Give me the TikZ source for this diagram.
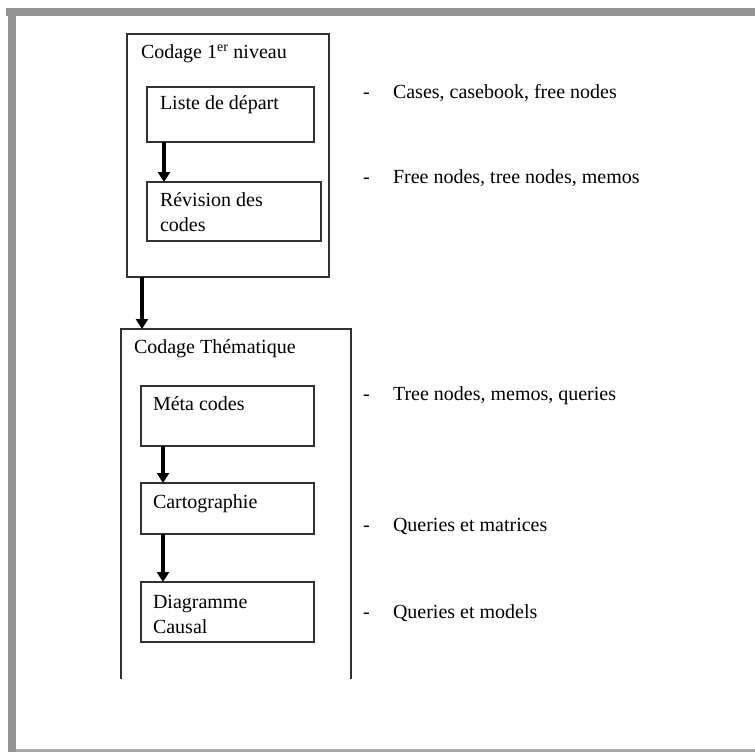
\documentclass[tikz,border=0pt]{standalone}
\usepackage{fontspec}
\setmainfont{Liberation Serif}
\usetikzlibrary{arrows.meta}
\definecolor{framegray}{RGB}{147,147,150}
\definecolor{framelight}{RGB}{170,170,172}
\definecolor{boxline}{RGB}{50,50,50}
\begin{document}
\begin{tikzpicture}[x=1pt,y=-1pt,
  box/.style={draw=boxline, line width=1.5pt, rectangle, inner sep=0pt, outer sep=0pt, anchor=north west},
  txt/.style={inner sep=0pt, outer sep=0pt, anchor=base west, align=left, font=\fontsize{20}{25}\selectfont},
  arr/.style={line width=3.2pt, -{Triangle[length=10pt,width=12pt]}}]
\useasboundingbox (0,0) rectangle (755,752);
% frame
\fill[framegray] (6,8) rectangle (755,16.5);
\fill[framegray] (8,8) rectangle (16,752);
\fill[framelight] (16,749) rectangle (755,752);
% first group
\node[box, minimum width=202pt, minimum height=243pt] (c1) at (127,34) {};
\node[txt] (t1) at (141,59) {Codage 1\textsuperscript{er} niveau};
\node[box, minimum width=167pt, minimum height=55pt] (liste) at (147,87) {};
\node[txt] (tliste) at (160,110) {Liste de départ};
\node[box, minimum width=174pt, minimum height=59pt] (revis) at (147,182) {};
\node[txt] (trevis) at (160,231) {Révision des\\codes};
\draw[arr] ([xshift=17pt]liste.south west) -- ([xshift=17pt]revis.north west);
% second group
\node[inner sep=0pt, outer sep=0pt, anchor=north west, minimum width=230pt, minimum height=350pt] (c2) at (121,329) {};
\draw[draw=boxline, line width=1.5pt] (c2.south west) -- (c2.north west) -- (c2.north east) -- (c2.south east);
\node[txt] (t2) at (134,353) {Codage Thématique};
\draw[arr] ([xshift=15pt]c1.south west) -- ([xshift=21pt]c2.north west);
\node[box, minimum width=173pt, minimum height=60pt] (meta) at (141,386) {};
\node[txt] (tmeta) at (153,410) {Méta codes};
\node[box, minimum width=173pt, minimum height=51pt] (carto) at (141,483) {};
\node[txt] (tcarto) at (153,508) {Cartographie};
\node[box, minimum width=173pt, minimum height=60pt] (diag) at (141,582) {};
\node[txt] (tdiag) at (153,633) {Diagramme\\Causal};
\draw[arr] ([xshift=22pt]meta.south west) -- ([xshift=22pt]carto.north west);
\draw[arr] ([xshift=22pt]carto.south west) -- ([xshift=22pt]diag.north west);
% right column
\node[txt] (d1) at (363,98) {-};
\node[txt] (r1) at (393,98) {Cases, casebook, free nodes};
\node[txt] (d2) at (363,183) {-};
\node[txt] (r2) at (393,183) {Free nodes, tree nodes, memos};
\node[txt] (d3) at (363,400) {-};
\node[txt] (r3) at (393,400) {Tree nodes, memos, queries};
\node[txt] (d4) at (363,531) {-};
\node[txt] (r4) at (393,531) {Queries et matrices};
\node[txt] (d5) at (363,618) {-};
\node[txt] (r5) at (393,618) {Queries et models};
\end{tikzpicture}
\end{document}
